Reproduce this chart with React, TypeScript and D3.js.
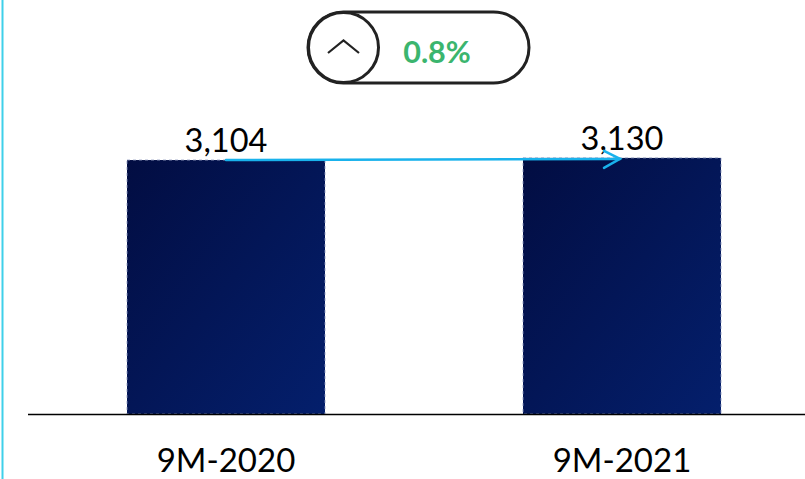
import React from "react";
import * as d3 from "d3";

const categories = ["9M-2020", "9M-2021"];
const values = [3104, 3130];
const valueLabels = ["3,104", "3,130"];
const changeLabel = "0.8%";

const W = 805;
const H = 479;

export default function App() {
  const x = d3.scaleBand<string>().domain(categories).range([28, 820]).paddingInner(0.5).paddingOuter(0.25);
  const y = d3.scaleLinear().domain([0, 5060]).range([414, 0]);
  const bw = x.bandwidth();
  const c0 = (x(categories[0]) as number) + bw / 2;
  const c1 = (x(categories[1]) as number) + bw / 2;
  const font = "Lato, 'Open Sans', sans-serif";

  return (
    <svg width={W} height={H} style={{ position: "absolute", left: 0, top: 0, background: "#fff" }}>
      <defs>
        <linearGradient id="barGrad" x1="0" y1="0" x2="1" y2="1">
          <stop offset="0%" stopColor="#020d42" />
          <stop offset="100%" stopColor="#041f6c" />
        </linearGradient>
      </defs>
      <line x1={2.5} x2={2.5} y1={0} y2={H} stroke="#3fd0ea" strokeWidth={2} />
      {categories.map((c, i) => (
        <g key={c}>
          <rect
            x={x(c)}
            y={y(values[i])}
            width={bw}
            height={y(0) - y(values[i])}
            fill="url(#barGrad)"
            stroke="#8f9ac0"
            strokeWidth={0.8}
            strokeDasharray="3,3"
          />
          <text x={(x(c) as number) + bw / 2} y={y(values[i]) - 8} textAnchor="middle" fontFamily={font} fontSize={32.5} fill="#000">
            {valueLabels[i]}
          </text>
          <text x={(x(c) as number) + bw / 2} y={472} textAnchor="middle" fontFamily={font} fontSize={33} fill="#000">
            {c}
          </text>
        </g>
      ))}
      <line x1={28} x2={W} y1={y(0) + 0.5} y2={y(0) + 0.5} stroke="#000" strokeWidth={1.5} />
      <g stroke="#19b2ec" strokeWidth={2.5} fill="none" strokeLinecap="round">
        <line x1={c0} y1={y(values[0])} x2={c1 - 2} y2={y(values[1]) + 1} />
        <polyline points={`${c1 - 18},${y(values[1]) - 7} ${c1 - 2},${y(values[1]) + 1} ${c1 - 18},${y(values[1]) + 10}`} />
      </g>
      <g>
        <rect x={308} y={12} width={221} height={71} rx={35.5} fill="#fff" stroke="#222" strokeWidth={3} />
        <circle cx={343.5} cy={47.5} r={35} fill="#fff" stroke="#222" strokeWidth={3} />
        <polyline points="328,53 343.5,40.5 359,53" fill="none" stroke="#222" strokeWidth={2.2} />
        <text x={437} y={62.5} textAnchor="middle" fontFamily={font} fontWeight={700} fontSize={30.5} fill="#3bb56e">
          {changeLabel}
        </text>
      </g>
    </svg>
  );
}
